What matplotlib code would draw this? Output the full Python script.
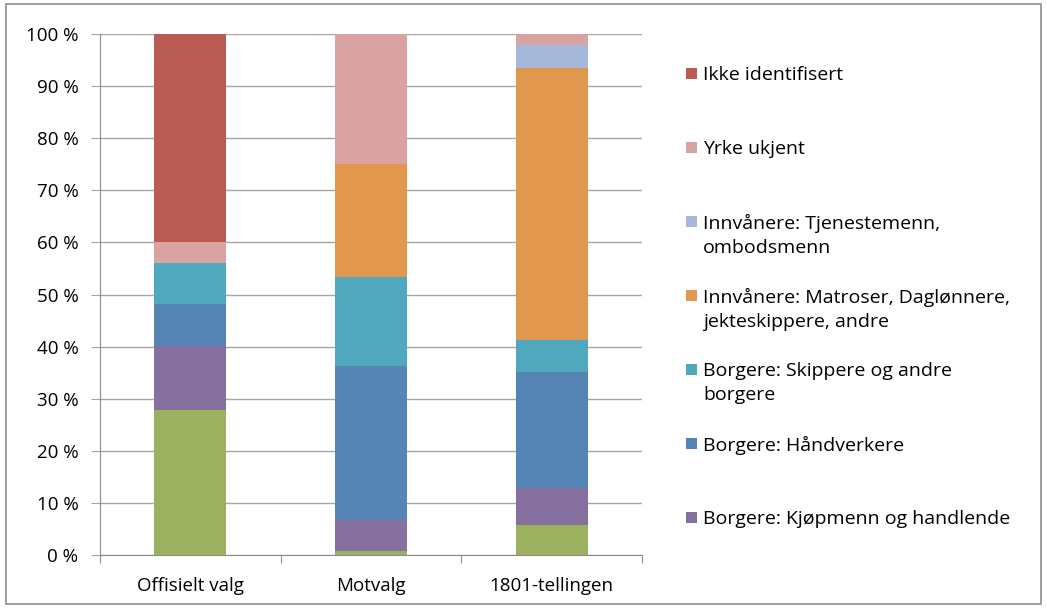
import matplotlib
matplotlib.use("Agg")
import matplotlib.pyplot as plt
from matplotlib.patches import Rectangle
import numpy as np

plt.rcParams['font.family'] = ['Open Sans', 'DejaVu Sans']

categories = ["Offisielt valg", "Motvalg", "1801-tellingen"]

# series in stacking order (bottom to top), values in percent
green_unnamed = [27.9, 0.7, 5.7]
kjopmenn = [12.2, 6.1, 7.2]
handverkere = [8.0, 29.4, 22.2]
skippere = [7.9, 17.2, 6.1]
matroser = [0.0, 21.7, 52.2]
tjenestemenn = [0.0, 0.0, 4.5]
yrke_ukjent = [4.0, 24.9, 2.1]
ikke_identifisert = [40.0, 0.0, 0.0]

series = [
    (None, green_unnamed, "#9BB15F"),
    ("Borgere: Kjøpmenn og handlende", kjopmenn, "#8670A0"),
    ("Borgere: Håndverkere", handverkere, "#5585B5"),
    ("Borgere: Skippere og andre\nborgere", skippere, "#4FA8BE"),
    ("Innvånere: Matroser, Daglønnere,\njekteskippere, andre", matroser, "#E2974E"),
    ("Innvånere: Tjenestemenn,\nombodsmenn", tjenestemenn, "#A5B8DA"),
    ("Yrke ukjent", yrke_ukjent, "#D9A3A2"),
    ("Ikke identifisert", ikke_identifisert, "#B95B53"),
]

W, H = 1047, 609
fig = plt.figure(figsize=(W / 100, H / 100), dpi=100)
fig.patches.append(Rectangle((0.006, 0.008), 0.988, 0.985, transform=fig.transFigure,
                             fill=False, edgecolor="#8c8c8c", linewidth=1.2))
ax = fig.add_axes([100 / W, 1 - 555 / H, 542 / W, 521 / H])

x = np.arange(len(categories))
bottom = np.zeros(len(categories))
for label, vals, color in series:
    vals = np.array(vals)
    ax.bar(x, vals, width=0.40, bottom=bottom, color=color, edgecolor="none", zorder=2)
    bottom += vals

ax.set_xlim(-0.5, 2.5)
ax.set_ylim(0, 100)
ax.set_yticks(np.arange(0, 101, 10))
ax.set_yticklabels([f"{v} %" for v in range(0, 101, 10)], fontsize=13.5)
ax.yaxis.grid(True, color="#a6a6a6", linewidth=1.0, zorder=0)
ax.set_axisbelow(True)
for s in ["top", "right"]:
    ax.spines[s].set_visible(False)
ax.spines["left"].set_color("#8c8c8c")
ax.spines["bottom"].set_color("#8c8c8c")
ax.tick_params(axis="y", length=6.5, color="#a6a6a6", pad=9)
ax.set_xticks([-0.5, 0.5, 1.5, 2.5])
ax.set_xticklabels([])
ax.set_xticks(x, minor=True)
ax.set_xticklabels(categories, minor=True, fontsize=13.5)
ax.tick_params(axis="x", which="major", length=6, color="#8c8c8c", direction="out")
ax.tick_params(axis="x", which="minor", length=0, pad=16)

# legend drawn manually (top to bottom = reverse stacking order)
legend_items = [s for s in series[::-1] if s[0] is not None]
first_center = 73.0
step = 74.0
for i, (label, vals, color) in enumerate(legend_items):
    yc = first_center + i * step
    fig.patches.append(Rectangle((686 / W, 1 - (yc + 6) / H), 11 / W, 11 / H,
                                 transform=fig.transFigure, facecolor=color, edgecolor="none"))
    fig.text(703 / W, 1 - (yc - 7) / H, label, fontsize=14, va="top", ha="left",
             linespacing=1.45, transform=fig.transFigure)

fig.savefig("out.png", dpi=100)
